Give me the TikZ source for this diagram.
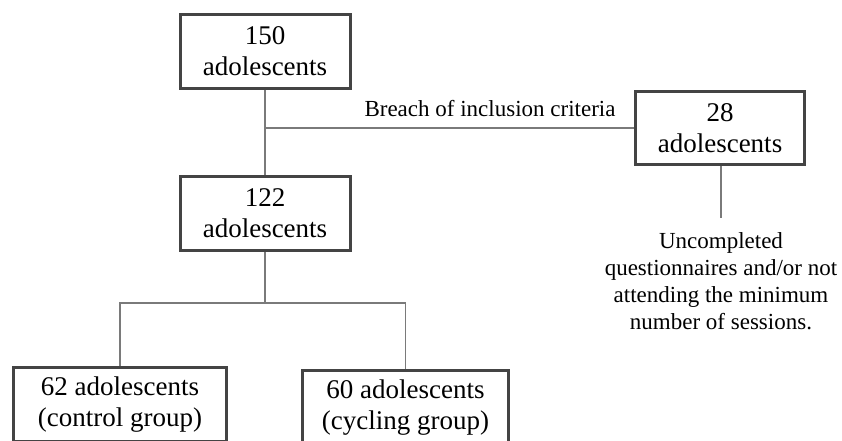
\documentclass[tikz,border=0pt]{standalone}
\usepackage{fontspec}
\setmainfont{Liberation Serif}
\usetikzlibrary{positioning}
\definecolor{boxgray}{HTML}{444444}
\definecolor{linegray}{HTML}{7A7A7A}
\tikzset{box/.style={draw=boxgray, line width=3pt, fill=white, minimum width=170pt, minimum height=74pt, align=center, inner sep=0pt, font=\fontsize{27}{31}\selectfont},
  link/.style={draw=linegray, line width=1.6pt},
  note/.style={align=center, inner sep=0pt, font=\fontsize{23}{27}\selectfont}}

\begin{document}
\begin{tikzpicture}[x=1pt,y=-1pt]
  \useasboundingbox (0,0) rectangle (842,441);
  \clip (0,0) rectangle (842,441);
  \node[box] (top) at (265,51.5) {150\\adolescents};
  \node[box] (mid) at (265,213.5) {122\\adolescents};
  \node[box, minimum width=169pt, minimum height=73pt] (excl) at (720,128) {28\\adolescents};
  \node[box, minimum width=213pt] (ctrl) at (120,404.5) {62 adolescents\\(control group)};
  \node[box, minimum width=206pt] (cyc) at (405.5,407.5) {60 adolescents\\(cycling group)};
  \coordinate (fork) at (265,303);
  \coordinate (stub) at (721,218);
  \draw[link] (top) -- (mid);
  \draw[link] (top.south |- excl.west) -- (excl.west);
  \draw[link] (mid) -- (fork);
  \draw[link] (ctrl) |- (fork) -| (cyc);
  \draw[link] (excl.south -| stub) -- (stub);
  \node[note, anchor=base] (breach) at (490,117) {Breach of inclusion criteria};
  \node[note, below=14pt of stub] (reason) {Uncompleted\\questionnaires and/or not\\attending the minimum\\number of sessions.};
\end{tikzpicture}
\end{document}
